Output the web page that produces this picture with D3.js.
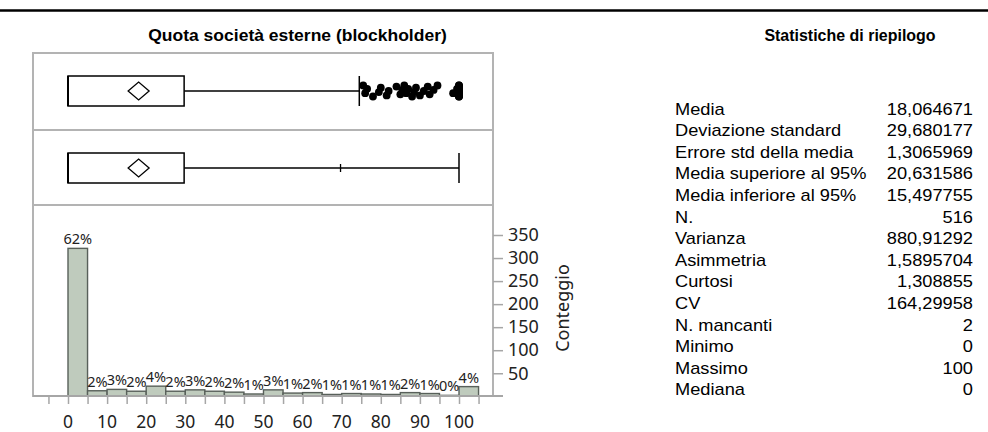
<!DOCTYPE html>
<html>
<head>
<meta charset="utf-8">
<script src="https://cdn.jsdelivr.net/npm/d3@7/dist/d3.min.js"></script>
<style>
  html, body { margin: 0; padding: 0; background: #fff; }
  svg { display: block; }
</style>
</head>
<body>
<svg id="chart" width="988" height="432"></svg>
<script>
// ---- data ----
const binStarts = [0, 5, 10, 15, 20, 25, 30, 35, 40, 45, 50, 55, 60, 65, 70, 75, 80, 85, 90, 95, 100];
const binCounts = [321, 12, 15, 11, 22, 11, 14, 11, 9, 5, 14, 7, 8, 4, 6, 5, 4, 8, 6, 2, 21];
const binWidth = 5;

const xTickLabels = [0, 10, 20, 30, 40, 50, 60, 70, 80, 90, 100];
const yTickLabels = [50, 100, 150, 200, 250, 300, 350];

// outlier box plot
const boxQ1 = 0, boxMedian = 0, boxQ3 = 29.7, boxMean = 18.064671;
const whiskerHigh = 74.5;
const outliers = [75.5, 76, 76.5, 78, 79.5, 80, 81.5, 82, 84,
  85, 85.5, 86, 86.5, 87, 88, 88.5, 89, 90, 91, 92, 92.5, 93.5, 94.5, 98.5, 99.5,
  100, 100, 100, 100, 100, 100, 100, 100, 100, 100, 100, 100, 100, 100, 100, 100, 100, 100, 100, 100, 100];

// quantile box plot
const quantileMarks = [69.7];
const dataMax = 100;

const statLabels = ["Media", "Deviazione standard", "Errore std della media", "Media superiore al 95%",
  "Media inferiore al 95%", "N.", "Varianza", "Asimmetria", "Curtosi", "CV", "N. mancanti",
  "Minimo", "Massimo", "Mediana"];
const statValues = ["18,064671", "29,680177", "1,3065969", "20,631586", "15,497755", "516",
  "880,91292", "1,5895704", "1,308855", "164,29958", "2", "0", "100", "0"];

const total = d3.sum(binCounts);

// ---- layout ----
const svg = d3.select("#chart");
const frame = { left: 33, right: 493, top: 53, div1: 130, div2: 205, bottom: 396 };
const x = d3.scaleLinear().domain([0, 100]).range([68, 459]);
const y = d3.scaleLinear().domain([0, 350]).range([396.3, 235]);
const axisGrey = "#a6a6a6";
const uiFont = "'Noto Sans', 'Open Sans', sans-serif";
const txtFont = "'Liberation Sans', Arial, sans-serif";

svg.append("rect").attr("width", 988).attr("height", 432).attr("fill", "#fff");

// heading rule
svg.append("line").attr("x1", 0).attr("x2", 988).attr("y1", 10.5).attr("y2", 10.5)
  .attr("stroke", "#000").attr("stroke-width", 2.5);

function stretchedText(px, py, str, opts) {
  const g = svg.append("g").attr("transform", `translate(${px},${py}) scale(${opts.sx},1)`);
  return g.append("text")
    .attr("x", 0).attr("y", 0)
    .attr("text-anchor", opts.anchor || "start")
    .attr("font-family", txtFont)
    .attr("font-size", opts.size)
    .attr("font-weight", opts.weight || "normal")
    .attr("fill", "#000")
    .text(str);
}

stretchedText(297.5, 41, "Quota società esterne (blockholder)", { sx: 1.03, size: 17, weight: "bold", anchor: "middle" });
stretchedText(850, 41, "Statistiche di riepilogo", { sx: 0.94, size: 17, weight: "bold", anchor: "middle" });

// ---- histogram ----
const bars = svg.append("g");
bars.selectAll("rect").data(binStarts).join("rect")
  .attr("x", d => x(d))
  .attr("width", d => x(d + binWidth) - x(d))
  .attr("y", (d, i) => y(binCounts[i]))
  .attr("height", (d, i) => y(0) - y(binCounts[i]))
  .attr("fill", "#bfcbbd")
  .attr("stroke", "#58605a")
  .attr("stroke-width", 1.4);

bars.selectAll("text").data(binStarts).join("text")
  .attr("x", d => x(d + binWidth / 2))
  .attr("y", (d, i) => y(binCounts[i]) - 4)
  .attr("text-anchor", "middle")
  .attr("font-family", uiFont)
  .attr("font-size", 14.5)
  .attr("fill", "#222")
  .text((d, i) => Math.round(binCounts[i] / total * 100) + "%");

// ---- frame ----
svg.append("rect")
  .attr("x", frame.left).attr("y", frame.top)
  .attr("width", frame.right - frame.left).attr("height", frame.bottom - frame.top)
  .attr("fill", "none").attr("stroke", "#b3b3b3").attr("stroke-width", 2);
[frame.div1, frame.div2].forEach(v => {
  svg.append("line").attr("x1", frame.left).attr("x2", frame.right)
    .attr("y1", v).attr("y2", v).attr("stroke", "#b3b3b3").attr("stroke-width", 2);
});

// ---- x axis ----
const xAxisG = svg.append("g").attr("transform", `translate(0,${frame.bottom})`);
xAxisG.call(d3.axisBottom(x).tickValues(d3.range(-5, 106, 5)).tickSize(8).tickFormat(""));
xAxisG.select(".domain").remove();
xAxisG.selectAll(".tick line").attr("stroke", axisGrey).attr("stroke-width", 1.5);
xAxisG.append("line").attr("x1", frame.left).attr("x2", 503).attr("y1", 0).attr("y2", 0)
  .attr("stroke", axisGrey).attr("stroke-width", 2);
xAxisG.selectAll(".lbl").data(xTickLabels).join("text")
  .attr("class", "lbl")
  .attr("x", d => x(d)).attr("y", 31.5)
  .attr("text-anchor", "middle")
  .attr("font-family", uiFont).attr("font-size", 17.5).attr("fill", "#222")
  .text(d => d);

// ---- y axis (count) ----
const yAxisG = svg.append("g").attr("transform", `translate(${frame.right},0)`);
yAxisG.call(d3.axisRight(y).tickValues(yTickLabels).tickSize(10).tickPadding(5));
yAxisG.select(".domain").remove();
yAxisG.selectAll(".tick line").attr("stroke", axisGrey).attr("stroke-width", 1.5);
yAxisG.selectAll(".tick text")
  .attr("font-family", uiFont).attr("font-size", 18).attr("fill", "#222");
svg.append("text")
  .attr("transform", "translate(569,308) rotate(-90)")
  .attr("text-anchor", "middle")
  .attr("font-family", uiFont).attr("font-size", 18).attr("fill", "#222")
  .text("Conteggio");

// ---- box plots ----
function diamond(cx, cy) {
  const hw = 10.5, hh = 9;
  return `M${cx - hw},${cy}L${cx},${cy - hh}L${cx + hw},${cy}L${cx},${cy + hh}Z`;
}

function drawBox(cy, whiskerEnd) {
  const g = svg.append("g").attr("stroke", "#000").attr("fill", "none");
  g.append("line").attr("x1", x(boxQ3)).attr("x2", x(whiskerEnd)).attr("y1", cy).attr("y2", cy)
    .attr("stroke-width", 1.5);
  g.append("line").attr("x1", x(whiskerEnd)).attr("x2", x(whiskerEnd)).attr("y1", cy - 15).attr("y2", cy + 15)
    .attr("stroke-width", 1.5);
  g.append("rect").attr("x", x(boxQ1)).attr("y", cy - 15)
    .attr("width", x(boxQ3) - x(boxQ1)).attr("height", 30)
    .attr("fill", "#fff").attr("stroke-width", 1.5);
  g.append("line").attr("x1", x(boxMedian)).attr("x2", x(boxMedian)).attr("y1", cy - 15).attr("y2", cy + 15)
    .attr("stroke-width", 2);
  g.append("path").attr("d", diamond(x(boxMean), cy)).attr("fill", "#fff").attr("stroke-width", 1.3);
  return g;
}

const box1 = drawBox(91, whiskerHigh);
box1.selectAll("circle").data(outliers).join("circle")
  .attr("cx", d => x(d))
  .attr("cy", (d, i) => 91 + (((i * 7) % 11) - 5) * 1.1)
  .attr("r", 3.9)
  .attr("fill", "#000").attr("stroke", "none");

const box2 = drawBox(168, dataMax);
box2.selectAll(".qm").data(quantileMarks).join("line")
  .attr("class", "qm")
  .attr("x1", d => x(d)).attr("x2", d => x(d))
  .attr("y1", 164).attr("y2", 172)
  .attr("stroke-width", 1.3);

// ---- summary statistics ----
statLabels.forEach((lab, i) => {
  const by = 114.5 + i * 21.6;
  stretchedText(675, by, lab, { sx: 1.14, size: 16 });
  stretchedText(973, by, statValues[i], { sx: 1.14, size: 16, anchor: "end" });
});
</script>
</body>
</html>
